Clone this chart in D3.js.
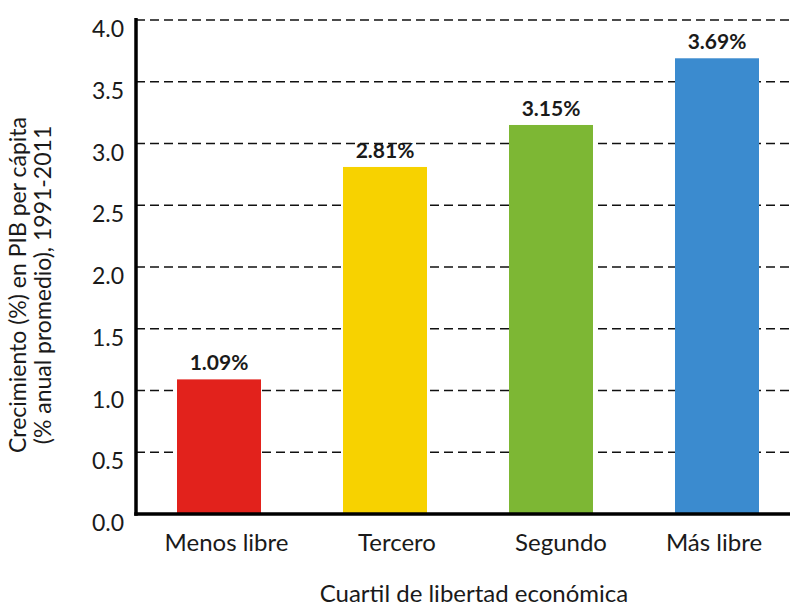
<!DOCTYPE html>
<html><head><meta charset="utf-8">
<script src="https://cdn.jsdelivr.net/npm/d3@7"></script>
<style>body{margin:0;background:#fff;} svg{display:block;font-family:Lato,sans-serif;}</style>
</head><body>
<svg id="c" width="790" height="606"></svg>
<script>
const categories = ["Menos libre", "Tercero", "Segundo", "Más libre"];
const values = [1.09, 2.81, 3.15, 3.69];
const valueLabels = ["1.09%", "2.81%", "3.15%", "3.69%"];
const colors = ["#e2221c", "#f7d200", "#7db734", "#3b8bcf"];
const yTicks = [0, 0.5, 1.0, 1.5, 2.0, 2.5, 3.0, 3.5, 4.0];
const yTitle = ["Crecimiento (%) en PIB per cápita", "(% anual promedio), 1991-2011"];
const xTitle = "Cuartil de libertad económica";

const svg = d3.select("#c");
const x0 = 136, x1 = 800, yTop = 20, yBot = 514;
const x = d3.scaleBand().domain(categories).range([x0, x1]).paddingInner(0.494).paddingOuter(0.247);
const y = d3.scaleLinear().domain([0, 4]).range([yBot, yTop]);
const txt = "#1a1a1a";
const labelNudge = [7.5, 12, 10, -3]; // horizontal nudge of category labels, as in the original layout

// gridlines
svg.append("g").selectAll("line").data(yTicks.filter(d => d > 0)).join("line")
  .attr("x1", x0).attr("x2", 790).attr("y1", d => y(d)).attr("y2", d => y(d))
  .attr("stroke", "#111").attr("stroke-width", 1.6).attr("stroke-dasharray", "9,5");

// bars
svg.append("g").selectAll("rect").data(values).join("rect")
  .attr("x", (d, i) => x(categories[i])).attr("width", x.bandwidth())
  .attr("y", d => y(d)).attr("height", d => y(0) - y(d))
  .attr("fill", (d, i) => colors[i]);

// value labels
svg.append("g").selectAll("text").data(values).join("text")
  .attr("x", (d, i) => x(categories[i]) + x.bandwidth() / 2)
  .attr("y", d => y(d) - 9)
  .attr("text-anchor", "middle").attr("font-size", 21).attr("font-weight", 700).attr("fill", txt)
  .text((d, i) => valueLabels[i]);

// axes
const yAxis = d3.axisLeft(y).tickValues(yTicks).tickFormat(d3.format(".1f")).tickSize(0).tickPadding(12);
const gy = svg.append("g").attr("transform", `translate(${x0},0)`).call(yAxis);
gy.select(".domain").remove();
gy.selectAll("text").attr("font-size", 23).attr("fill", txt).attr("font-family", "Lato, sans-serif")
  .attr("dy", "0.72em");

const xAxis = d3.axisBottom(x).tickSize(0).tickPadding(20);
const gx = svg.append("g").attr("transform", `translate(0,${yBot})`).call(xAxis);
gx.select(".domain").remove();
gx.selectAll("text").attr("font-size", 24).attr("fill", txt).attr("font-family", "Lato, sans-serif")
  .attr("dx", (d, i) => labelNudge[i]);

svg.append("line").attr("x1", x0).attr("x2", x0).attr("y1", yTop - 2).attr("y2", yBot + 1.75)
  .attr("stroke", "#000").attr("stroke-width", 3.5);
svg.append("line").attr("x1", x0 - 1.75).attr("x2", 790).attr("y1", yBot).attr("y2", yBot)
  .attr("stroke", "#000").attr("stroke-width", 3.5);

// titles
svg.append("text").attr("x", 474).attr("y", 602).attr("text-anchor", "middle")
  .attr("font-size", 24).attr("fill", txt).text(xTitle);
const yt = svg.append("text").attr("transform", "translate(26,285) rotate(-90)")
  .attr("text-anchor", "middle").attr("font-size", 23).attr("fill", txt);
yt.selectAll("tspan").data(yTitle).join("tspan").attr("x", 0).attr("dy", (d, i) => i ? 25 : 0).text(d => d);
</script>
</body></html>
